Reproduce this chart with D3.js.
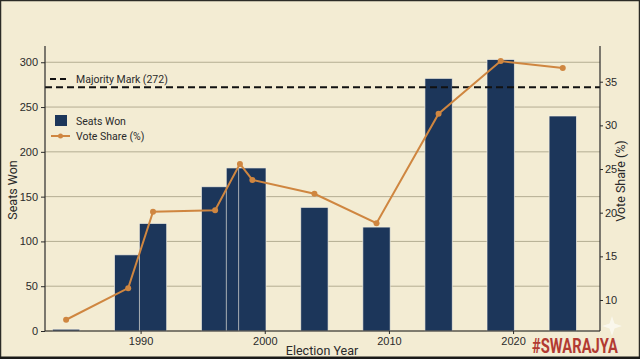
<!DOCTYPE html>
<html>
<head>
<meta charset="utf-8">
<script src="https://cdn.jsdelivr.net/npm/d3@7"></script>
<style>
  html, body { margin: 0; padding: 0; background: #f3ecd3; }
  svg { display: block; font-family: Roboto, "Noto Sans", sans-serif; }
</style>
</head>
<body>
<div id="chart"></div>
<script>
// Data
const years = [1984, 1989, 1991, 1996, 1998, 1999, 2004, 2009, 2014, 2019, 2024];
const seats = [2, 85, 120, 161, 182, 182, 138, 116, 282, 303, 240];
const voteShare = [7.74, 11.36, 20.11, 20.29, 25.59, 23.75, 22.16, 18.80, 31.34, 37.36, 36.56];
const seatTicks = [0, 50, 100, 150, 200, 250, 300];
const voteTicks = [10, 15, 20, 25, 30, 35];
const yearTicks = [1990, 2000, 2010, 2020];
const majority = 272;

let W = 640, H = 359;
let margin = {top: 46, right: 40, bottom: 28, left: 45};
let plotW = W - margin.left - margin.right,
    plotH = H - margin.top - margin.bottom;

const navy = "#1c365a", orange = "#cf8640", ink = "#2a2a2a", grid = "#b4ad93";

let svg = d3.select("#chart").append("svg")
    .attr("width", W)
    .attr("height", H);

svg.append("rect").attr("width", W).attr("height", H).attr("fill", "#f3ecd3");

let g = svg.append("g")
    .attr("transform", "translate(" + margin.left + "," + margin.top + ")");

let x = d3.scaleLinear().domain([1982.3, 2027]).range([0, plotW]);
let y = d3.scaleLinear().domain([0, 318.15]).range([plotH, 0]);
let y2 = d3.scaleLinear().domain([6.45, 39.09]).range([plotH, 0]);
const barYears = 2.2;
let barW = x(1984 + barYears) - x(1984);

// horizontal grid following the seats axis
g.append("g").selectAll("line")
    .data(seatTicks)
    .enter().append("line")
        .attr("x1", 0).attr("x2", plotW)
        .attr("y1", d => y(d)).attr("y2", d => y(d))
        .attr("stroke", grid).attr("stroke-width", 1);

// bars
g.append("g").selectAll("rect")
    .data(years.map((yr, i) => ({yr: yr, s: seats[i]})))
    .enter().append("rect")
        .attr("x", d => x(d.yr) - barW / 2)
        .attr("y", d => y(d.s))
        .attr("width", barW)
        .attr("height", d => plotH - y(d.s))
        .attr("fill", navy)
        .attr("stroke", "#f7f3e6")
        .attr("stroke-opacity", 0.8)
        .attr("stroke-width", 0.8);

// majority line
g.append("line")
    .attr("x1", 0).attr("x2", plotW)
    .attr("y1", y(majority)).attr("y2", y(majority))
    .attr("stroke", "#111").attr("stroke-width", 2)
    .attr("stroke-dasharray", "7,4");

// vote share line
let pts = years.map((yr, i) => ({yr: yr, v: voteShare[i]}));
g.append("path")
    .datum(pts)
    .attr("fill", "none")
    .attr("stroke", orange)
    .attr("stroke-width", 2)
    .attr("d", d3.line().x(d => x(d.yr)).y(d => y2(d.v)));
g.append("g").selectAll("circle")
    .data(pts)
    .enter().append("circle")
        .attr("cx", d => x(d.yr))
        .attr("cy", d => y2(d.v))
        .attr("r", 3)
        .attr("fill", orange);

// axes
let left = g.append("g")
    .call(d3.axisLeft(y).tickValues(seatTicks).tickSize(4).tickPadding(3));
let right = g.append("g")
    .attr("transform", "translate(" + plotW + ",0)")
    .call(d3.axisRight(y2).tickValues(voteTicks).tickSize(3).tickPadding(2));
let bottom = g.append("g")
    .attr("transform", "translate(0," + plotH + ")")
    .call(d3.axisBottom(x).tickValues(yearTicks).tickFormat(d3.format("d")).tickSize(3).tickPadding(3));

[left, right, bottom].forEach(a => {
    a.selectAll("path.domain").attr("stroke", ink).attr("stroke-width", 1.2);
    a.selectAll(".tick line").attr("stroke", ink);
    a.selectAll("text").attr("fill", ink).style("font-size", "11px");
});
left.select("path.domain").attr("d", "M0," + plotH + "V0");
right.select("path.domain").attr("d", "M0," + plotH + "V0");
bottom.select("path.domain").attr("d", "M0,0H" + plotW);

// axis titles
svg.append("text")
    .attr("transform", "translate(17," + (margin.top + 144) + ") rotate(-90)")
    .attr("text-anchor", "middle")
    .attr("fill", ink).style("font-size", "12.5px")
    .text("Seats Won");
svg.append("text")
    .attr("transform", "translate(625," + (margin.top + 135) + ") rotate(-90)")
    .attr("text-anchor", "middle")
    .attr("fill", ink).style("font-size", "12.5px")
    .text("Vote Share (%)");
svg.append("text")
    .attr("x", margin.left + 277).attr("y", 355)
    .attr("text-anchor", "middle")
    .attr("fill", ink).style("font-size", "12.5px")
    .text("Election Year");

// legends
let leg = svg.append("g").style("font-size", "10.5px").attr("fill", ink);
leg.append("line").attr("x1", 50).attr("x2", 68).attr("y1", 79).attr("y2", 79)
    .attr("stroke", "#111").attr("stroke-width", 2).attr("stroke-dasharray", "6,4");
leg.append("text").attr("x", 76).attr("y", 82.5).text("Majority Mark (" + majority + ")");
leg.append("rect").attr("x", 55).attr("y", 115).attr("width", 12).attr("height", 11).attr("fill", navy);
leg.append("text").attr("x", 76).attr("y", 124.5).text("Seats Won");
leg.append("line").attr("x1", 51).attr("x2", 70).attr("y1", 136).attr("y2", 136)
    .attr("stroke", orange).attr("stroke-width", 2);
leg.append("circle").attr("cx", 60.5).attr("cy", 136).attr("r", 2.5).attr("fill", orange);
leg.append("text").attr("x", 76).attr("y", 140).text("Vote Share (%)");

// watermark
svg.append("path")
    .attr("d", "M612,316 L614.5,323.5 L622,326 L614.5,328.5 L612,336 L609.5,328.5 L602,326 L609.5,323.5 Z")
    .attr("fill", "#fbf8ee").attr("opacity", 0.9);
svg.append("text")
    .attr("transform", "translate(532,353) scale(0.74,1)")
    .attr("textLength", 116).attr("lengthAdjust", "spacingAndGlyphs")
    .attr("fill", "#b23a32")
    .style("font-size", "21px").style("font-weight", "bold")
    .text("#SWARAJYA");

// frame
svg.append("rect").attr("x", 0.5).attr("y", 0.5).attr("width", W - 1).attr("height", H - 1)
    .attr("fill", "none").attr("stroke", "#2b2b26").attr("stroke-width", 1.5);
svg.append("rect").attr("x", 0).attr("y", H - 2.5).attr("width", W).attr("height", 2.5).attr("fill", "#1a1a18");
</script>
</body>
</html>
